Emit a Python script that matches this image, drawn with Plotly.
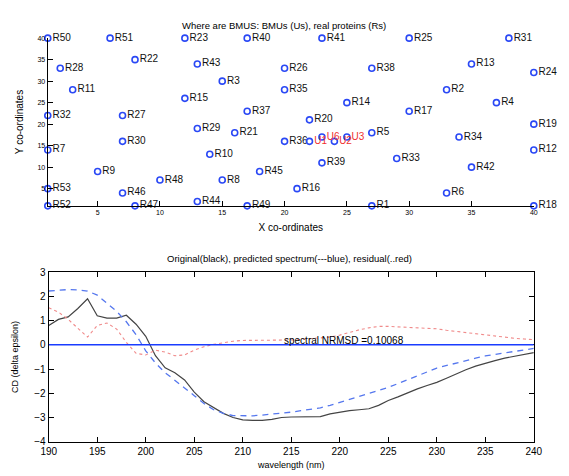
import plotly.graph_objects as go

# ---------------- data: top panel (BMU map) ----------------
r_labels = ["R1","R2","R3","R4","R5","R6","R7","R8","R9","R10",
            "R11","R12","R13","R14","R15","R16","R17","R18","R19","R20",
            "R21","R22","R23","R24","R25","R26","R27","R28","R29","R30",
            "R31","R32","R33","R34","R35","R36","R37","R38","R39","R40",
            "R41","R42","R43","R44","R45","R46","R47","R48","R49","R50",
            "R51","R52","R53"]
r_x = [27,33,15,37,27,33,1,15,5,14,
       3,40,35,25,12,21,30,40,40,22,
       16,8,12,40,30,20,7,2,13,7,
       38,1,29,34,20,20,17,27,23,17,
       23,35,13,13,18,7,8,10,17,1,
       6,1,1]
r_y = [1,28,30,25,18,4,14,7,9,13,
       28,14,34,25,26,5,23,1,20,21,
       18,35,40,32,40,33,22,33,19,16,
       40,22,12,17,28,16,23,33,11,40,
       40,10,34,2,9,4,1,7,1,40,
       40,1,5]

u_labels = ["U1","U6","U3","U2"]
u_x = [22,23,25,24]
u_y = [16,17,17,16]

# ---------------- data: bottom panel (CD spectra) ----------------
wavelength = list(range(190, 241))
original = [0.80,1.05,1.15,1.50,1.90,1.20,1.10,1.10,1.22,0.85,
            0.35,-0.45,-0.95,-1.15,-1.45,-1.95,-2.35,-2.60,-2.83,-3.00,
            -3.10,-3.12,-3.12,-3.08,-3.00,-2.98,-2.98,-2.98,-2.96,-2.85,
            -2.78,-2.72,-2.68,-2.64,-2.50,-2.30,-2.15,-1.98,-1.82,-1.68,
            -1.55,-1.38,-1.20,-1.03,-0.88,-0.75,-0.65,-0.55,-0.47,-0.39,
            -0.32]
predicted = [2.22,2.26,2.28,2.27,2.22,2.05,1.72,1.38,0.95,0.42,
             -0.25,-0.75,-1.15,-1.45,-1.78,-2.10,-2.42,-2.68,-2.83,-2.92,
             -2.93,-2.93,-2.90,-2.87,-2.83,-2.78,-2.72,-2.66,-2.60,-2.50,
             -2.38,-2.26,-2.14,-2.00,-1.88,-1.76,-1.60,-1.45,-1.29,-1.12,
             -0.96,-0.85,-0.75,-0.65,-0.55,-0.46,-0.40,-0.33,-0.26,-0.20,
             -0.15]
residual = [1.53,1.35,1.05,0.70,0.32,0.80,0.90,0.65,0.10,-0.35,
            -0.42,-0.22,-0.30,-0.45,-0.42,-0.22,-0.08,0.02,0.10,0.15,
            0.18,0.18,0.18,0.18,0.18,0.20,0.22,0.25,0.28,0.32,
            0.40,0.52,0.62,0.70,0.76,0.76,0.74,0.72,0.70,0.68,
            0.66,0.60,0.55,0.50,0.44,0.39,0.35,0.31,0.27,0.24,
            0.21]
nrmsd_text = "spectral NRMSD =0.10068"

FONT = "Liberation Sans, Arial, sans-serif"
MARK_BLUE = "#2a48f5"

fig = go.Figure()

fig.add_trace(go.Scatter(
    x=r_x, y=r_y, mode="markers+text", text=r_labels,
    textposition="middle right",
    textfont=dict(family=FONT, size=10, color="#111111"),
    marker=dict(symbol="circle-open", size=6, color=MARK_BLUE, line=dict(width=1.6, color=MARK_BLUE)),
    cliponaxis=False, xaxis="x", yaxis="y", showlegend=False, hoverinfo="text"))

fig.add_trace(go.Scatter(
    x=u_x, y=u_y, mode="markers+text", text=u_labels,
    textposition="middle right",
    textfont=dict(family=FONT, size=10, color="#f03030"),
    marker=dict(symbol="circle-open", size=6, color=MARK_BLUE, line=dict(width=1.6, color=MARK_BLUE)),
    cliponaxis=False, xaxis="x", yaxis="y", showlegend=False, hoverinfo="text"))

fig.add_trace(go.Scatter(
    x=wavelength, y=original, mode="lines",
    line=dict(color="#444444", width=1.2),
    xaxis="x2", yaxis="y2", showlegend=False))
fig.add_trace(go.Scatter(
    x=wavelength, y=predicted, mode="lines",
    line=dict(color="#5577ee", width=1.3, dash="6px,5px"),
    xaxis="x2", yaxis="y2", showlegend=False))
fig.add_trace(go.Scatter(
    x=wavelength, y=residual, mode="lines",
    line=dict(color="#f08a8a", width=1.1, dash="dot"),
    xaxis="x2", yaxis="y2", showlegend=False))

fig.add_shape(type="line", xref="x2", yref="y2", x0=190, x1=240, y0=0, y1=0,
              line=dict(color="#1a3cff", width=1.6), layer="above")

axis_common = dict(showgrid=False, zeroline=False, showline=True, linecolor="black",
                   linewidth=1.2, ticks="inside", ticklen=5, tickcolor="black")

fig.update_layout(
    width=569, height=476,
    margin=dict(l=0, r=0, t=0, b=0),
    paper_bgcolor="white", plot_bgcolor="white",
    font=dict(family=FONT, color="black"),
    xaxis=dict(domain=[41/569, 542/569], range=[1, 40], anchor="y",
               tickvals=[5,10,15,20,25,30,35,40], tickfont=dict(size=7),
               title=dict(text="X co-ordinates", font=dict(size=10), standoff=8),
               **axis_common),
    yaxis=dict(domain=[1-205/476, 1-33/476], range=[1, 40], anchor="x",
               tickvals=[5,10,15,20,25,30,35,40], tickfont=dict(size=7),
               title=dict(text="Y co-ordinates", font=dict(size=10), standoff=11),
               **axis_common),
    xaxis2=dict(domain=[42/569, 542/569], range=[190, 240], anchor="y2", mirror="ticks",
                tickvals=list(range(190, 241, 5)), tickfont=dict(size=10),
                title=dict(text="wavelength (nm)", font=dict(size=9), standoff=5),
                **axis_common),
    yaxis2=dict(domain=[1-447/476, 1-273/476], range=[-4, 3], anchor="x2", mirror="ticks",
                tickvals=list(range(-4, 4)), tickfont=dict(size=10),
                title=dict(text="CD (delta epsilon)", font=dict(size=9), standoff=14),
                **axis_common),
    annotations=[
        dict(text="Where are BMUS: BMUs (Us), real proteins (Rs)", x=0.5, y=1-20/476,
             xref="paper", yref="paper", showarrow=False, font=dict(size=9.5),
             xanchor="center", yanchor="middle"),
        dict(text="Original(black), predicted spectrum(---blue), residual(..red)", x=0.51, y=1-259/476,
             xref="paper", yref="paper", showarrow=False, font=dict(size=9.5),
             xanchor="center", yanchor="middle"),
        dict(text=nrmsd_text, x=214, y=0, xref="x2", yref="y2", showarrow=False,
             font=dict(size=10), xanchor="left", yanchor="bottom", yshift=-3),
    ],
)

fig.write_html("out.html")
